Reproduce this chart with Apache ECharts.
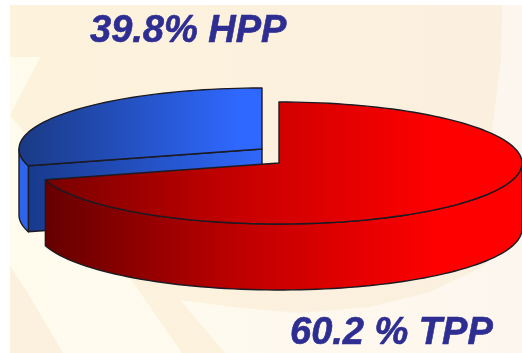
<!DOCTYPE html>
<html>
<head>
<meta charset="utf-8">
<style>html,body{margin:0;padding:0;background:#fff}#c{width:522px;height:353px}</style>
<script src="https://cdn.jsdelivr.net/npm/echarts@6/dist/echarts.min.js"></script>
</head>
<body>
<div id="c"></div>
<script>
// Generation shares, clockwise from twelve o'clock.
const sliceNames = ['TPP', 'HPP'];
const sliceValues = [60.2, 39.8];
const sliceLabels = ['60.2 % TPP', '39.8% HPP'];

// Disc geometry, per slice: apex of the wedge on screen.
const RX = 243, RY = 61, DEPTH = 66;
const apex = { TPP: [279, 163], HPP: [262, 149] };
const labelAt = { TPP: [290, 334], HPP: [90, 32] };
// Near-side foreshortening of the tilted disc.
const PERSPECTIVE = 0.44;

const total = sliceValues.reduce((a, b) => a + b, 0);
const D = Math.PI / 180;

// True angle on the disc to the elliptical parameter seen on screen.
function project(deg) {
  if (deg <= 0 || deg >= 360) return deg;
  const t = 2 * Math.atan(PERSPECTIVE * Math.tan(deg * D / 2)) / D;
  return t < 0 ? t + 360 : t;
}
function rim(c, t, drop) {
  return [c[0] + RX * Math.sin(t * D), c[1] - RY * Math.cos(t * D) + (drop || 0)];
}
function arc(c, t0, t1, drop) {
  const pts = [], n = Math.max(2, Math.ceil(Math.abs(t1 - t0) / 2));
  for (let i = 0; i <= n; i++) pts.push(rim(c, t0 + (t1 - t0) * i / n, drop));
  return pts;
}
function ramp(x0, x1, stops) {
  return new echarts.graphic.LinearGradient(x0, 0, x1, 0,
    stops.map(s => ({ offset: s[0], color: s[1] })), true);
}
const EDGE = '#1c1a22';
const redTop = () => ramp(47, 440, [[0, '#7a0000'], [0.5, '#c80000'], [1, '#ff0000']]);
const redSide = () => ramp(47, 440, [[0, '#650000'], [0.5, '#c00000'], [1, '#ff0000']]);
const blueTop = () => ramp(19, 240, [[0, '#1a3a84'], [1, '#2f68ff']]);
const blueCut = () => ramp(27, 262, [[0, '#183a8c'], [1, '#2f68fa']]);

function poly(points, fill) {
  return { type: 'polygon', shape: { points: points },
    style: { fill: fill, stroke: EDGE, lineWidth: 1.4, lineJoin: 'round' } };
}

function renderSlice(params, api) {
  // Slices are painted back to front, so the running angle is summed from the array order.
  const i = api.value(0);
  const name = sliceNames[i];
  let before = 0;
  for (let k = 0; k < i; k++) before += sliceValues[k];
  const t0 = project(before / total * 360);
  const t1 = project((before + api.value(1)) / total * 360);
  const c = apex[name];
  const children = [];
  const top = [c].concat(arc(c, t0, t1));

  if (name === 'HPP') {
    const corner = rim(c, t0);
    // Cut face running from the wedge apex out to the rim.
    children.push(poly([c, corner, [corner[0], corner[1] + DEPTH], [c[0], c[1] + DEPTH]], blueCut()));
    // Sliver of outer wall left of the corner.
    const wall = arc(c, t0, 270);
    children.push(poly(wall.concat(arc(c, 270, t0, DEPTH)), '#2f64ec'));
    children.push(poly(top, blueTop()));
  } else {
    const a = Math.max(t0, 90), b = Math.min(t1, 270);
    const wall = arc(c, a, b);
    children.push(poly(wall.concat(arc(c, b, a, DEPTH)), redSide()));
    children.push(poly(top, redTop()));
  }
  const at = labelAt[name];
  children.push({
    type: 'text', x: at[0], y: at[1],
    style: {
      text: sliceLabels[i], fill: '#2e2e92', stroke: '#2e2e92', lineWidth: 0.6,
      align: 'left', verticalAlign: 'middle',
      font: 'italic bold 38px "Liberation Sans", Arial, sans-serif'
    }
  });
  return { type: 'group', children: children };
}

// Pale backdrop with its soft cream swooshes.
function shade(points, fill, z) {
  return { type: 'polygon', z: z, silent: true, shape: { points: points }, style: { fill: fill } };
}
const creamFill = new echarts.graphic.LinearGradient(10, 0, 500, 0,
  [{ offset: 0, color: '#fdf3dc' }, { offset: 1, color: '#fbefdf' }], true);
const baseFill = new echarts.graphic.LinearGradient(10, 0, 522, 0,
  [{ offset: 0, color: '#fffcee' }, { offset: 1, color: '#fdf6ee' }], true);

const chart = echarts.init(document.getElementById('c'), null, { renderer: 'canvas' });
chart.setOption({
  animation: false,
  backgroundColor: '#ffffff',
  graphic: { elements: [
    shade([[10, 5], [522, 5], [522, 353], [10, 353]], baseFill, -10),
    shade([[10, 5], [502, 5], [501, 60], [492, 130], [515, 240], [480, 268], [430, 292], [370, 307], [300, 313],
      [240, 308], [180, 300], [225, 353], [182, 353], [130, 278], [90, 200], [45, 120], [68, 72], [60, 118],
      [90, 200], [30, 140], [10, 115], [40, 57], [10, 57]], creamFill, -9),
    shade([[10, 266], [26, 290], [63, 353], [10, 353]], '#fcf0de', -9)
  ] },
  series: [{
    type: 'custom',
    coordinateSystem: 'none',
    silent: true,
    renderItem: renderSlice,
    encode: { value: 1 },
    // Blue sits behind the red disc, so it goes first.
    data: [[1, sliceValues[1]], [0, sliceValues[0]]]
  }]
});
</script>
</body>
</html>
